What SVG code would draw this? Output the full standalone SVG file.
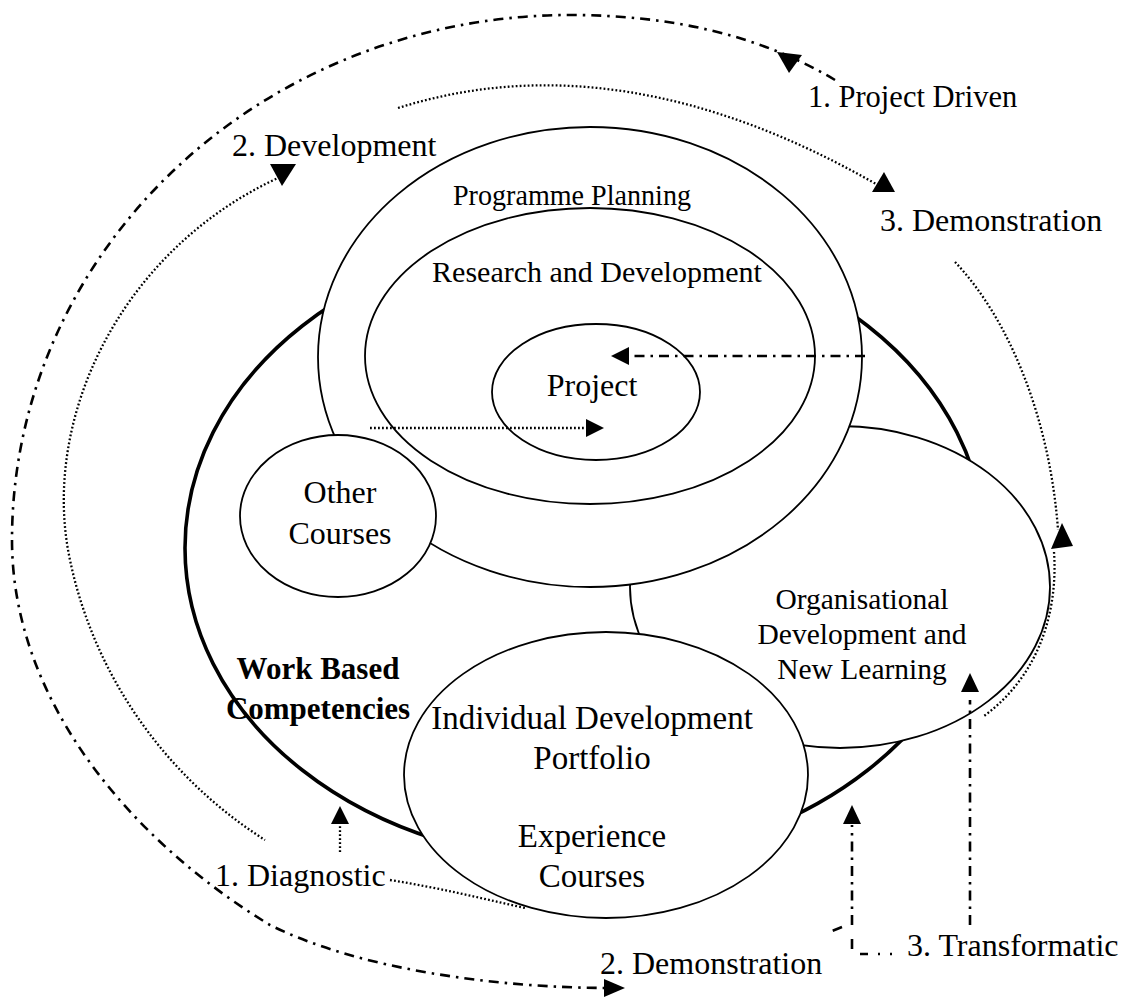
<svg xmlns="http://www.w3.org/2000/svg" width="1140" height="999" viewBox="0 0 1140 999">
<defs>
<style>
.bg{fill:#fff}
.ell{fill:#fff;stroke:#000;stroke-width:1.8}
.thick{fill:#fff;stroke:#000;stroke-width:3.6}
.dd{fill:none;stroke:#000;stroke-width:2.6;stroke-dasharray:10 6 2.5 6}
.dot{fill:none;stroke:#000;stroke-width:2.3;stroke-dasharray:1.8 2.2}
.ah{fill:#000;stroke:none}
text{font-family:"Liberation Serif","Times New Roman",serif;font-size:32px;fill:#000}
.c{text-anchor:middle}
.b{font-weight:bold;font-size:31px}
.pp{font-size:29.5px}
.rd{font-size:30px}
.org{font-size:29.5px}
.ind{font-size:33px}
.pd{font-size:30.5px}
</style>
</defs>
<rect class="bg" x="0" y="0" width="1140" height="999"/>

<g id="work-based-competencies">
<ellipse class="thick" cx="585" cy="548" rx="400" ry="314"/>
</g>
<g id="organisational-development">
<ellipse class="ell" cx="840" cy="587" rx="210" ry="161"/>
</g>
<g id="programme-planning">
<ellipse class="ell" cx="590" cy="357" rx="272" ry="230"/>
</g>
<g id="research-development">
<ellipse class="ell" cx="590" cy="356" rx="225" ry="148"/>
</g>
<g id="project">
<ellipse class="ell" cx="596" cy="392" rx="104" ry="68"/>
</g>
<g id="other-courses">
<ellipse class="ell" cx="338" cy="516" rx="98" ry="81"/>
</g>
<g id="individual-development">
<ellipse class="ell" cx="606" cy="775" rx="202" ry="143"/>
</g>

<g id="connectors">
<path class="dd" d="M835,80 C760,35 670,15 570,15 A558 525 0 0 0 12,540 C12,700 130,840 270,925 C360,970 500,988 610,988"/>
<path class="dot" d="M398,108 Q620,38 876,184"/>
<path class="dot" d="M280,177 C120,250 40,420 70,560 C95,680 170,780 265,840"/>
<path class="dot" d="M390,880 C440,888 480,898 525,908"/>
<path class="dot" d="M955,262 C1010,320 1050,420 1058,530"/>
<path class="dot" d="M1054,552 C1058,610 1040,675 984,716"/>
<path class="dd" d="M865,356 L628,356"/>
<path class="dot" d="M370,428 L588,428"/>
<path class="dot" d="M340,852 L340,822"/>
<path class="dd" d="M852,925 L852,825"/>
<path class="dd" d="M842,927 L832,931"/>
<path class="dd" d="M852,939 L852,952 M860,954 L868,954 M878,954 L880,954 M890,954 L892,954"/>
<path class="dd" d="M970,925 L970,700"/>
<polygon class="ah" points="777,52 802,55 789,73"/>
<polygon class="ah" points="270,164 296,164 282,186"/>
<polygon class="ah" points="884,172 872,192 895,192"/>
<polygon class="ah" points="1062,523 1051,549 1073,546"/>
<polygon class="ah" points="611,356 629,347 629,365"/>
<polygon class="ah" points="604,428 586,419 586,437"/>
<polygon class="ah" points="340,806 331,824 349,824"/>
<polygon class="ah" points="852,805 843,824 861,824"/>
<polygon class="ah" points="970,673 961,692 979,692"/>
<polygon class="ah" points="625,988 604,979 604,997"/>
</g>

<g id="labels">
<text class="pd" x="808" y="107">1. Project Driven</text>
<text x="232" y="156">2. Development</text>
<text x="880" y="231">3. Demonstration</text>
<text class="c pp" x="572" y="205" textLength="238" lengthAdjust="spacingAndGlyphs">Programme Planning</text>
<text class="c rd" x="597" y="282">Research and Development</text>
<text class="c" x="592" y="396">Project</text>
<text class="c" x="340" y="503">Other</text>
<text class="c" x="340" y="544">Courses</text>
<text class="c org" x="862" y="609">Organisational</text>
<text class="c org" x="862" y="644">Development and</text>
<text class="c org" x="862" y="679">New Learning</text>
<text class="c b" x="318" y="679">Work Based</text>
<text class="c b" x="318" y="719">Competencies</text>
<text class="c ind" x="592" y="729">Individual Development</text>
<text class="c ind" x="592" y="769">Portfolio</text>
<text class="c ind" x="592" y="847">Experience</text>
<text class="c ind" x="592" y="887">Courses</text>
<text x="215" y="886">1. Diagnostic</text>
<text x="600" y="974">2. Demonstration</text>
<text x="907" y="956">3. Transformatic</text>
</g>
</svg>
